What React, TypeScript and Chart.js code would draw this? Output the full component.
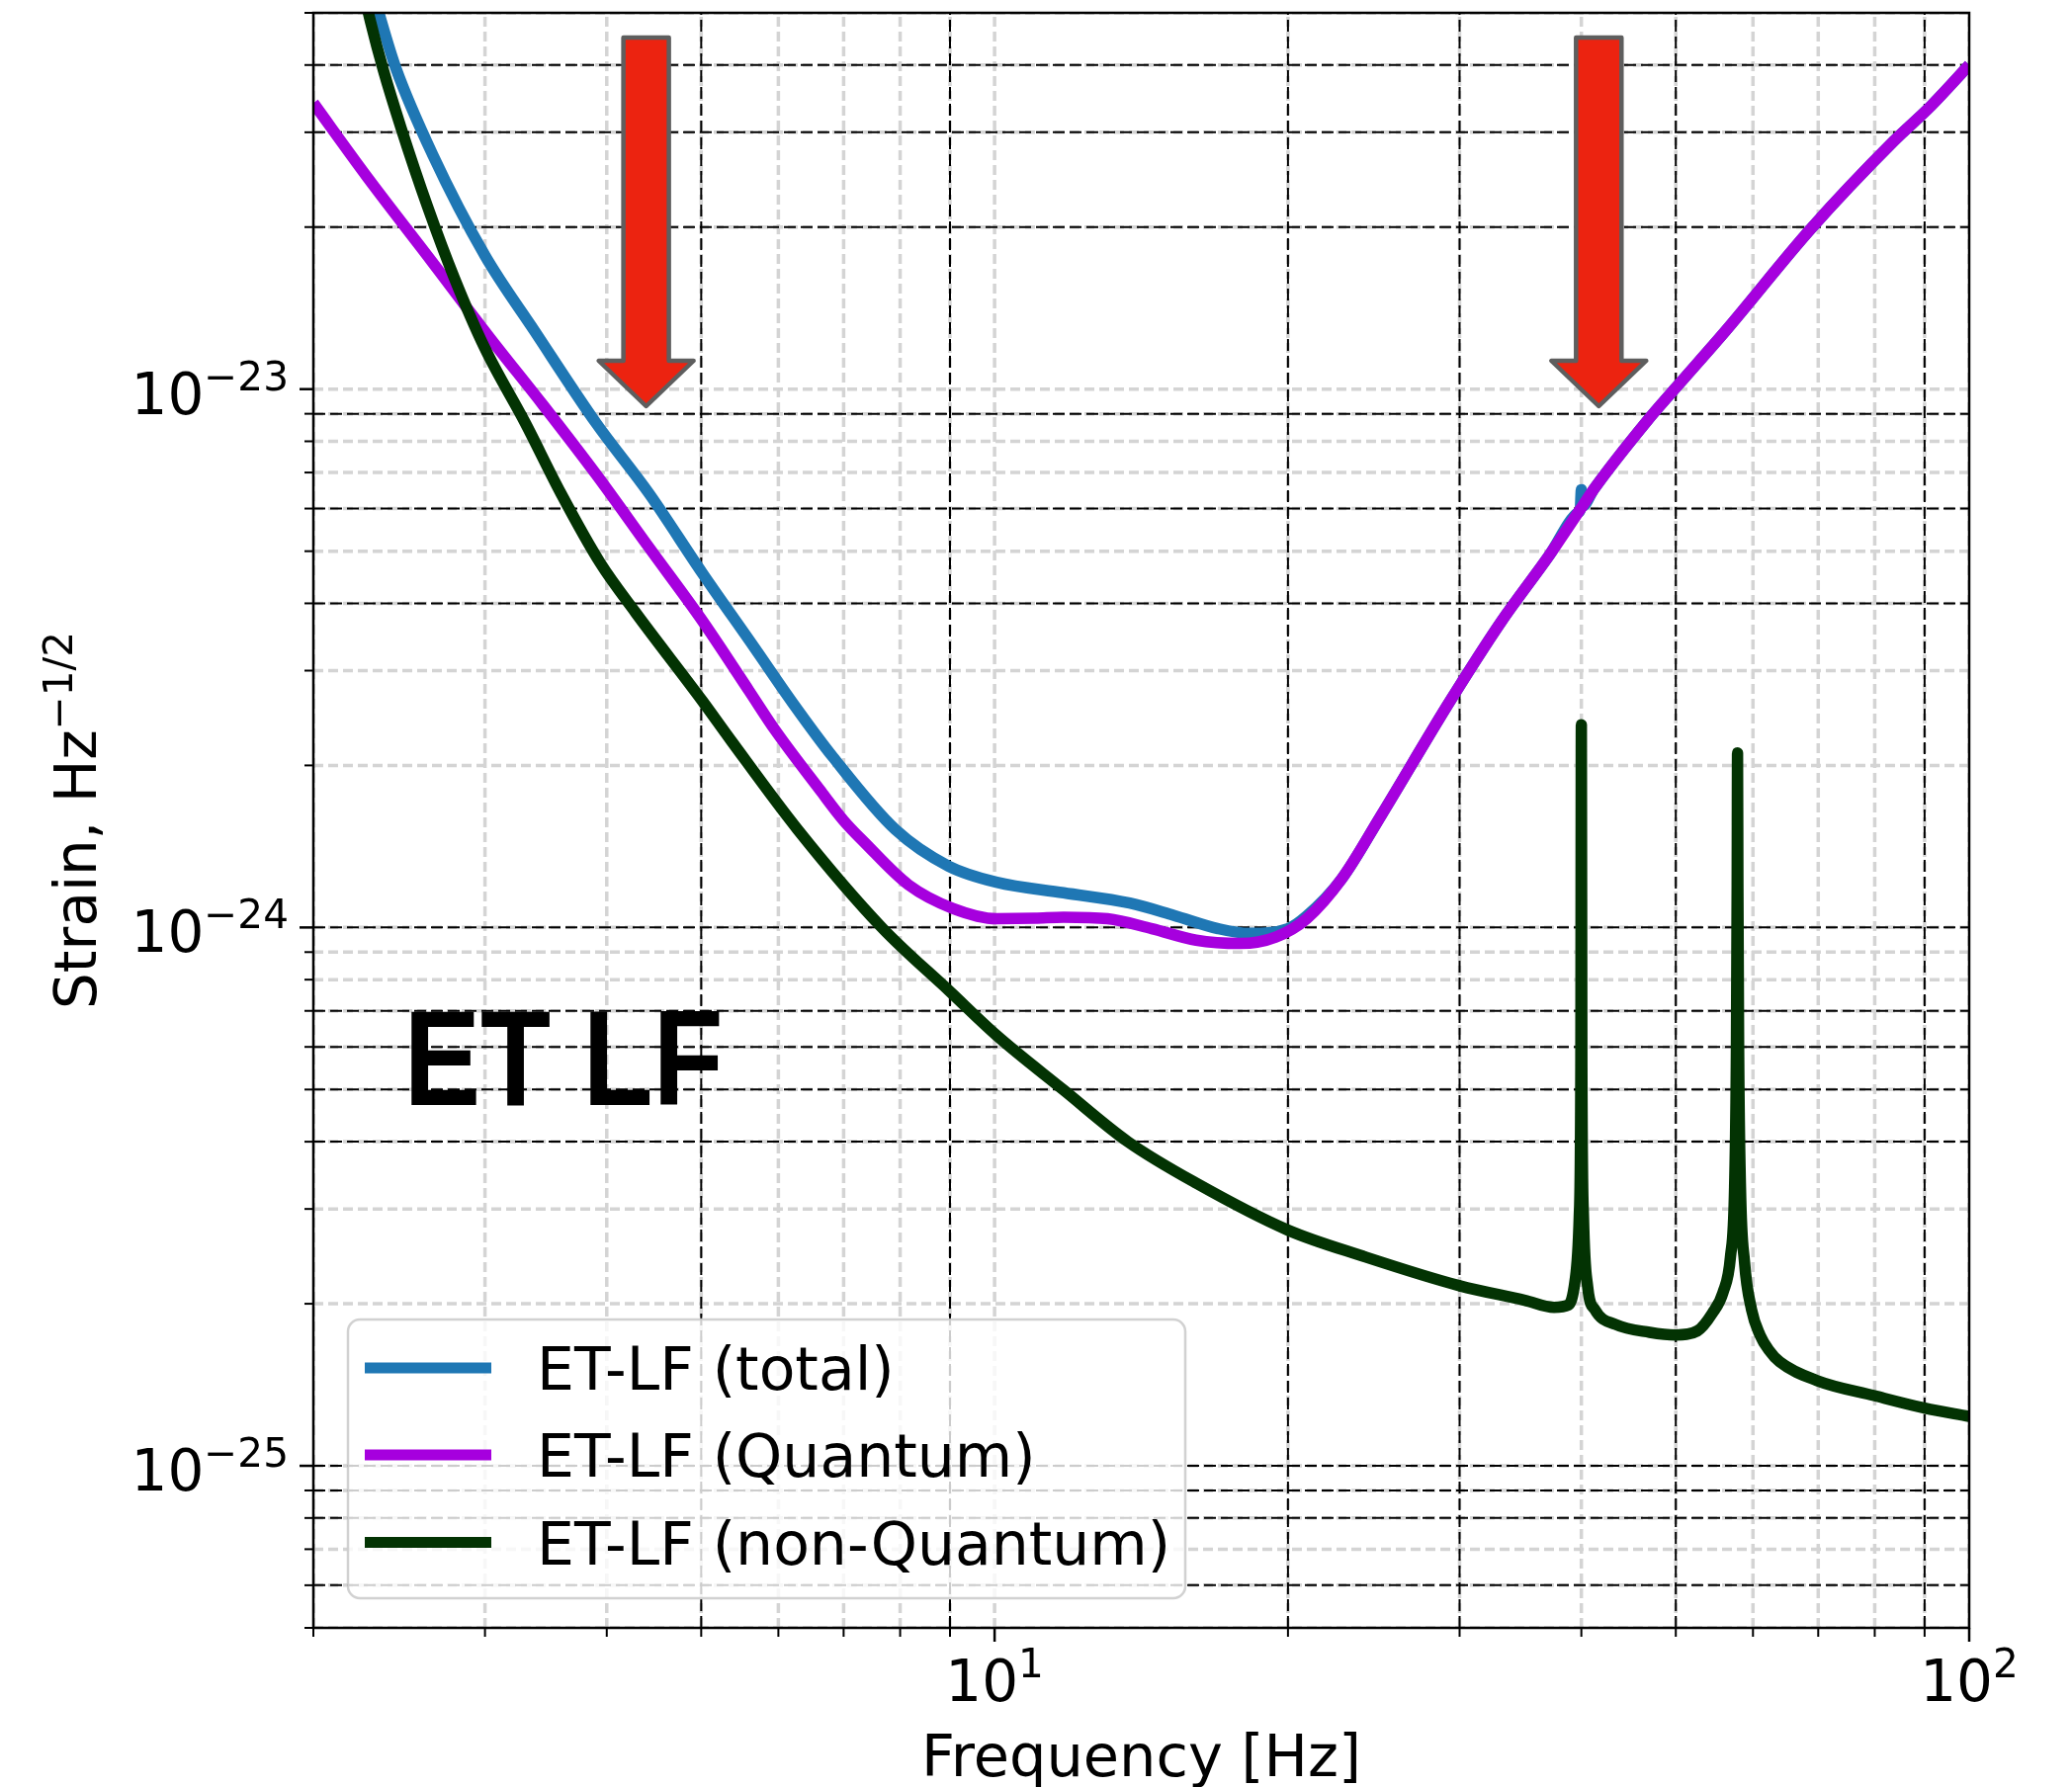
import React, { useEffect, useRef } from "react";
import { Chart, registerables } from "chart.js";

Chart.register(...registerables);

// ---------------- data ----------------
const seriesLabels = ["ET-LF (total)", "ET-LF (Quantum)", "ET-LF (non-Quantum)"];
const seriesColors = ["#1f77b4", "#A600DE", "#033303"];

const totalFreq = [2.25, 2.35, 2.43, 2.65, 3.0, 3.37, 3.9, 4.42, 5.01, 5.67, 6.2, 6.83, 7.91, 8.97, 10.05, 11.77, 13.76, 15.28, 16.96, 18.25, 20.0, 20.9, 22.7, 24.9, 29.2, 33.1, 37.1, 39.7, 39.9, 40.0, 40.1, 41.2, 46.7, 50, 56.3, 68.7, 83.7, 91.4, 100];
const totalStrain = [6.4e-23, 4.8e-23, 3.95e-23, 2.73e-23, 1.77e-23, 1.285e-23, 8.65e-24, 6.4e-24, 4.56e-24, 3.31e-24, 2.62e-24, 2.07e-24, 1.52e-24, 1.3e-24, 1.213e-24, 1.16e-24, 1.11e-24, 1.053e-24, 9.95e-25, 9.75e-25, 9.95e-25, 1.05e-24, 1.23e-24, 1.61e-24, 2.6e-24, 3.7e-24, 4.92e-24, 5.9e-24, 5.98e-24, 6.5e-24, 6.06e-24, 6.52e-24, 8.72e-24, 1.006e-23, 1.286e-23, 1.98e-23, 2.89e-23, 3.36e-23, 4.0e-23];

const quantumFreq = [2.0, 2.27, 2.65, 3.03, 3.44, 3.9, 4.42, 5.01, 5.6, 5.96, 6.62, 7.0, 7.35, 8.16, 9.06, 10.05, 11.0, 11.77, 13.06, 14.5, 16.1, 17.87, 19.43, 20.9, 22.7, 24.9, 29.2, 33.1, 37.1, 39.7, 39.9, 40.0, 40.1, 41.2, 46.7, 50, 56.3, 68.7, 83.7, 91.4, 100];
const quantumStrain = [3.4e-23, 2.48e-23, 1.72e-23, 1.25e-23, 9.35e-24, 6.95e-24, 5.08e-24, 3.72e-24, 2.75e-24, 2.32e-24, 1.8e-24, 1.58e-24, 1.44e-24, 1.2e-24, 1.085e-24, 1.038e-24, 1.04e-24, 1.045e-24, 1.038e-24, 9.95e-25, 9.47e-25, 9.34e-25, 9.6e-25, 1.038e-24, 1.23e-24, 1.61e-24, 2.6e-24, 3.7e-24, 4.92e-24, 5.9e-24, 5.98e-24, 6.02e-24, 6.06e-24, 6.52e-24, 8.72e-24, 1.006e-23, 1.286e-23, 1.98e-23, 2.89e-23, 3.36e-23, 4.0e-23];

const nonQuantumFreq = [2.2, 2.29, 2.36, 2.46, 2.62, 2.79, 3.0, 3.3, 3.59, 3.94, 4.28, 5.01, 5.37, 6.28, 7.66, 9.0, 10.05, 11.77, 13.7, 16.1, 20.0, 23.9, 30.0, 35.0, 37.5, 38.8, 39.4, 39.8, 39.95, 40.0, 40.05, 40.2, 40.6, 41.3, 43.4, 47.0, 50.0, 52.6, 54.5, 55.9, 56.9, 57.45, 57.7, 57.8, 57.85, 57.9, 58.0, 58.25, 58.8, 59.8, 61.0, 62.3, 63.9, 69.8, 79.9, 90, 100];
const nonQuantumStrain = [6.6e-23, 4.8e-23, 3.91e-23, 3.06e-23, 2.18e-23, 1.61e-23, 1.19e-23, 8.65e-24, 6.4e-24, 4.75e-24, 3.85e-24, 2.64e-24, 2.22e-24, 1.52e-24, 1.0e-24, 7.6e-25, 6.3e-25, 4.99e-25, 4.0e-25, 3.35e-25, 2.74e-25, 2.45e-25, 2.16e-25, 2.03e-25, 1.97e-25, 1.99e-25, 2.2e-25, 2.9e-25, 5.5e-25, 2.38e-24, 5.5e-25, 2.9e-25, 2.15e-25, 1.95e-25, 1.83e-25, 1.77e-25, 1.75e-25, 1.78e-25, 1.92e-25, 2.1e-25, 2.45e-25, 3.3e-25, 6.0e-25, 1.2e-24, 2.11e-24, 1.2e-24, 6.0e-25, 3.3e-25, 2.4e-25, 1.95e-25, 1.75e-25, 1.64e-25, 1.56e-25, 1.44e-25, 1.35e-25, 1.28e-25, 1.235e-25];

const X_MIN = 2;
const X_MAX = 100;
const Y_MIN = 5e-26;
const Y_MAX = 5e-23;
const xTickExponents = [1, 2];
const yTickExponents = [-25, -24, -23];
const xDarkGridFreqs = [5, 9, 20, 30, 50, 90];
const yDarkGridStrains = [4e-23, 3e-23, 2e-23, 9e-24, 6e-24, 4e-24, 1e-24, 7e-25, 6e-25, 5e-25, 4e-25, 1e-25, 9e-26, 8e-26, 6e-26];
const arrowFreqs = [4.39, 41.68];
const xAxisTitle = "Frequency [Hz]";
const yAxisTitle = "Strain, Hz";
const yAxisTitleExp = "\u22121/2";
const annotationText = "ET LF";

// ---------------- layout / style ----------------
const W = 2096;
const H = 1808;
const FONT = '"DejaVu Sans", sans-serif';
const LEGEND_BOX = { left: 352, top: 1335, right: 1199, bottom: 1617, radius: 12 };
const LEGEND_ROWS_Y = [1384, 1472, 1560.5];

function logValues(min: number, max: number): number[] {
  const out: number[] = [];
  for (let e = Math.floor(Math.log10(min)) - 1; e <= Math.ceil(Math.log10(max)); e++) {
    for (let m = 1; m <= 9; m++) {
      const v = m * Math.pow(10, e);
      if (v >= min * 0.9999 && v <= max * 1.0001) out.push(v);
    }
  }
  return out;
}
const isMajor = (v: number) => Math.abs(Math.log10(v) - Math.round(Math.log10(v))) < 1e-6;

function pow10Label(ctx: CanvasRenderingContext2D, exp: number, x: number, baseline: number, align: "right" | "center") {
  const base = "10";
  const sup = (exp < 0 ? "\u2212" : "") + Math.abs(exp);
  ctx.font = `58px ${FONT}`;
  const bw = ctx.measureText(base).width;
  ctx.font = `40.6px ${FONT}`;
  const sw = ctx.measureText(sup).width;
  const total = bw + sw;
  const left = align === "right" ? x - total : x - total / 2;
  ctx.textAlign = "left";
  ctx.textBaseline = "alphabetic";
  ctx.fillStyle = "#000";
  ctx.font = `58px ${FONT}`;
  ctx.fillText(base, left, baseline);
  ctx.font = `40.6px ${FONT}`;
  ctx.fillText(sup, left + bw, baseline - 24);
}

function drawArrow(ctx: CanvasRenderingContext2D, cx: number) {
  const top = 38, headStart = 365, tip = 411, sh = 23, hh = 48;
  ctx.save();
  ctx.beginPath();
  ctx.moveTo(cx - sh, top);
  ctx.lineTo(cx + sh, top);
  ctx.lineTo(cx + sh, headStart);
  ctx.lineTo(cx + hh, headStart);
  ctx.lineTo(cx, tip);
  ctx.lineTo(cx - hh, headStart);
  ctx.lineTo(cx - sh, headStart);
  ctx.closePath();
  ctx.fillStyle = "#EC2310";
  ctx.fill();
  ctx.setLineDash([]);
  ctx.lineWidth = 4.5;
  ctx.lineJoin = "round";
  ctx.strokeStyle = "#5e5e5e";
  ctx.stroke();
  ctx.restore();
}

const overlayPlugin = {
  id: "overlay",
  beforeDatasetsDraw(chart: any) {
    const ctx: CanvasRenderingContext2D = chart.ctx;
    const a = chart.chartArea;
    const xs = chart.scales.x;
    const ys = chart.scales.y;
    ctx.save();
    ctx.beginPath();
    ctx.rect(a.left, a.top, a.right - a.left, a.bottom - a.top);
    ctx.clip();
    ctx.lineCap = "butt";
    ctx.strokeStyle = "#d4d4d4";
    ctx.lineWidth = 3.5;
    ctx.setLineDash([10, 5]);
    for (const v of logValues(X_MIN, X_MAX)) {
      const p = xs.getPixelForValue(v);
      ctx.beginPath(); ctx.moveTo(p, a.bottom); ctx.lineTo(p, a.top); ctx.stroke();
    }
    for (const v of logValues(Y_MIN, Y_MAX)) {
      const p = ys.getPixelForValue(v);
      ctx.beginPath(); ctx.moveTo(a.left, p); ctx.lineTo(a.right, p); ctx.stroke();
    }
    ctx.strokeStyle = "#000";
    ctx.lineWidth = 2;
    ctx.setLineDash([12, 5]);
    for (const v of xDarkGridFreqs) {
      const p = xs.getPixelForValue(v);
      ctx.beginPath(); ctx.moveTo(p, a.bottom); ctx.lineTo(p, a.top); ctx.stroke();
    }
    for (const v of yDarkGridStrains) {
      const p = ys.getPixelForValue(v);
      ctx.beginPath(); ctx.moveTo(a.left, p); ctx.lineTo(a.right, p); ctx.stroke();
    }
    ctx.restore();
  },
  afterDatasetsDraw(chart: any) {
    const ctx: CanvasRenderingContext2D = chart.ctx;
    const a = chart.chartArea;
    const xs = chart.scales.x;
    const ys = chart.scales.y;
    ctx.save();
    ctx.setLineDash([]);

    // legend
    const L = LEGEND_BOX;
    ctx.beginPath();
    (ctx as any).roundRect(L.left, L.top, L.right - L.left, L.bottom - L.top, L.radius);
    ctx.fillStyle = "rgba(255,255,255,0.8)";
    ctx.fill();
    ctx.lineWidth = 2.5;
    ctx.strokeStyle = "rgba(204,204,204,0.9)";
    ctx.stroke();
    for (let i = 0; i < seriesLabels.length; i++) {
      const y = LEGEND_ROWS_Y[i];
      ctx.beginPath();
      ctx.moveTo(369, y);
      ctx.lineTo(497, y);
      ctx.lineWidth = 11;
      ctx.strokeStyle = seriesColors[i];
      ctx.lineCap = "butt";
      ctx.stroke();
      ctx.fillStyle = "#000";
      ctx.font = `60px ${FONT}`;
      ctx.textAlign = "left";
      ctx.textBaseline = "alphabetic";
      ctx.fillText(seriesLabels[i], 543, y + 22);
    }

    // big annotation text
    ctx.save();
    ctx.font = `bold 138px "Liberation Sans", Arial, sans-serif`;
    ctx.textAlign = "left";
    ctx.textBaseline = "alphabetic";
    const m = ctx.measureText(annotationText);
    const inkW = m.actualBoundingBoxLeft + m.actualBoundingBoxRight;
    const sx = 312 / inkW;
    ctx.translate(416, 1118);
    ctx.scale(sx, 1);
    ctx.fillStyle = "#000";
    ctx.fillText(annotationText, m.actualBoundingBoxLeft, 0);
    ctx.restore();

    // arrows
    for (const f of arrowFreqs) drawArrow(ctx, xs.getPixelForValue(f));

    // spines
    ctx.setLineDash([]);
    ctx.strokeStyle = "#000";
    ctx.lineWidth = 2.5;
    ctx.strokeRect(a.left, a.top, a.right - a.left, a.bottom - a.top);

    // ticks
    ctx.lineCap = "butt";
    for (const v of logValues(Y_MIN, Y_MAX)) {
      const p = ys.getPixelForValue(v);
      const major = isMajor(v);
      ctx.lineWidth = major ? 2.5 : 2;
      ctx.beginPath(); ctx.moveTo(a.left - (major ? 14 : 9), p); ctx.lineTo(a.left, p); ctx.stroke();
    }
    for (const v of logValues(X_MIN, X_MAX)) {
      const p = xs.getPixelForValue(v);
      const major = isMajor(v);
      ctx.lineWidth = major ? 2.5 : 2;
      ctx.beginPath(); ctx.moveTo(p, a.bottom); ctx.lineTo(p, a.bottom + (major ? 14 : 9)); ctx.stroke();
    }

    // tick labels
    for (const e of yTickExponents) pow10Label(ctx, e, 292, ys.getPixelForValue(Math.pow(10, e)) + 25, "right");
    for (const e of xTickExponents) pow10Label(ctx, e, xs.getPixelForValue(Math.pow(10, e)), 1721, "center");

    // axis titles
    ctx.fillStyle = "#000";
    ctx.textAlign = "center";
    ctx.textBaseline = "alphabetic";
    ctx.font = `59px ${FONT}`;
    ctx.fillText(xAxisTitle, (a.left + a.right) / 2, 1797);

    ctx.save();
    ctx.translate(97, (a.top + a.bottom) / 2);
    ctx.rotate(-Math.PI / 2);
    ctx.textAlign = "left";
    ctx.font = `58px ${FONT}`;
    const tw = ctx.measureText(yAxisTitle).width;
    ctx.font = `40.6px ${FONT}`;
    const ew = ctx.measureText(yAxisTitleExp).width;
    const start = -(tw + ew) / 2;
    ctx.font = `58px ${FONT}`;
    ctx.fillText(yAxisTitle, start, 0);
    ctx.font = `40.6px ${FONT}`;
    ctx.fillText(yAxisTitleExp, start + tw, -24);
    ctx.restore();

    ctx.restore();
  },
};

function toPoints(fs: number[], vs: number[]) {
  return fs.map((f, i) => ({ x: f, y: vs[i] }));
}

export default function App() {
  const ref = useRef<HTMLCanvasElement | null>(null);
  useEffect(() => {
    if (!ref.current) return;
    const common = {
      borderWidth: 11.5,
      pointRadius: 0,
      pointHoverRadius: 0,
      cubicInterpolationMode: "monotone" as const,
      borderJoinStyle: "round" as const,
      fill: false,
      clip: 0,
    };
    const chart = new Chart(ref.current, {
      type: "line",
      data: {
        datasets: [
          { ...common, label: seriesLabels[0], data: toPoints(totalFreq, totalStrain), borderColor: seriesColors[0], order: 3 },
          { ...common, label: seriesLabels[1], data: toPoints(quantumFreq, quantumStrain), borderColor: seriesColors[1], order: 2 },
          { ...common, label: seriesLabels[2], data: toPoints(nonQuantumFreq, nonQuantumStrain), borderColor: seriesColors[2], order: 1 },
        ],
      },
      options: {
        responsive: false,
        animation: false,
        devicePixelRatio: 1,
        events: [],
        layout: { padding: { left: 0, top: 13, right: 104, bottom: 0 } },
        plugins: { legend: { display: false }, tooltip: { enabled: false } },
        scales: {
          x: {
            type: "logarithmic",
            min: X_MIN,
            max: X_MAX,
            bounds: "data",
            ticks: { display: false },
            grid: { display: false },
            border: { display: false },
            afterFit: (s: any) => { s.height = H - 1647; },
          },
          y: {
            type: "logarithmic",
            min: Y_MIN,
            max: Y_MAX,
            bounds: "data",
            ticks: { display: false },
            grid: { display: false },
            border: { display: false },
            afterFit: (s: any) => { s.width = 317; },
          },
        },
      } as any,
      plugins: [overlayPlugin],
    });
    return () => chart.destroy();
  }, []);
  return (
    <div style={{ position: "fixed", left: 0, top: 0, width: W, height: H, background: "#fff" }}>
      <canvas ref={ref} width={W} height={H} style={{ display: "block" }} />
    </div>
  );
}
